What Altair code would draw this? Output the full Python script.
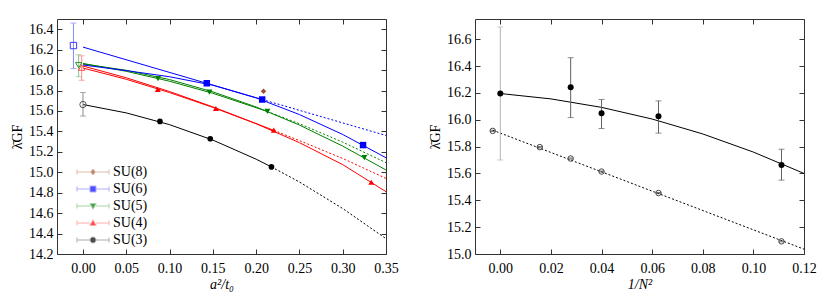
import altair as alt
import pandas as pd

FONT = "'Liberation Serif', 'DejaVu Serif', serif"

# ---------------- left panel: lambda_GF vs a^2/t0 ----------------
groups = ["SU(8)", "SU(6)", "SU(5)", "SU(4)", "SU(3)"]
colors = ["#a0522d", "#0000ff", "#008000", "#ff0000", "#000000"]
bar_colors = ["#d2a088", "#8a8aff", "#86c286", "#ff8a8a", "#8a8a8a"]
shapes = ["diamond", "square", "triangle-down", "triangle-up", "circle"]
marker_sizes = [30, 42, 36, 36, 32]

su8_x = [0.2085]
su8_y = [15.793]
su6_x = [0.143, 0.207, 0.3235]
su6_y = [15.871, 15.712, 15.266]
su5_x = [0.0866, 0.146, 0.213, 0.325]
su5_y = [15.917, 15.784, 15.595, 15.143]
su4_x = [0.0864, 0.1535, 0.2204, 0.333]
su4_y = [15.81, 15.624, 15.413, 14.902]
su3_x = [0.0889, 0.147, 0.2177]
su3_y = [15.498, 15.328, 15.052]

# continuum values (open symbols) with errors
cont_groups = ["SU(6)", "SU(5)", "SU(4)", "SU(3)"]
cont_x = [-0.011, -0.005, -0.0015, 0.0]
cont_y = [16.24, 16.048, 16.025, 15.663]
cont_lo = [16.015, 15.935, 15.90, 15.55]
cont_hi = [16.46, 16.15, 16.14, 15.78]
cont_colors = ["#3a3aff", "#2a9a2a", "#ff4a4a", "#555555"]
cont_bar_colors = ["#8a8aff", "#86c286", "#ff8a8a", "#8a8a8a"]
cont_shapes = ["square", "triangle-down", "triangle-up", "circle"]

# continuum fits (solid inside fit range, dotted extrapolation)
fit_su3_x = [0.0, 0.05, 0.10, 0.15, 0.20, 0.2177]
fit_su3_y = [15.663, 15.581, 15.466, 15.315, 15.128, 15.052]
ext_su3_x = [0.2177, 0.25, 0.30, 0.35]
ext_su3_y = [15.052, 14.905, 14.645, 14.35]

fit_su4_x = [0.0, 0.05, 0.10, 0.15, 0.20, 0.25, 0.30, 0.35]
fit_su4_y = [16.02, 15.91, 15.78, 15.635, 15.475, 15.29, 15.075, 14.81]
fit_su4b_x = [0.0, 0.05, 0.10, 0.15, 0.2204]
fit_su4b_y = [16.04, 15.925, 15.79, 15.64, 15.41]
ext_su4b_x = [0.2204, 0.25, 0.30, 0.35]
ext_su4b_y = [15.41, 15.31, 15.135, 14.94]

fit_su5_x = [0.0, 0.05, 0.10, 0.15, 0.20, 0.25, 0.30, 0.35]
fit_su5_y = [16.06, 15.998, 15.907, 15.787, 15.639, 15.462, 15.256, 15.022]
fit_su5b_x = [0.0, 0.05, 0.10, 0.15, 0.213]
fit_su5b_y = [16.065, 15.988, 15.891, 15.773, 15.595]
ext_su5b_x = [0.213, 0.25, 0.30, 0.35]
ext_su5b_y = [15.595, 15.475, 15.295, 15.094]

fit_su6_x = [0.0, 0.05, 0.10, 0.15, 0.20, 0.25, 0.30, 0.35]
fit_su6_y = [16.05, 15.995, 15.935, 15.852, 15.728, 15.565, 15.37, 15.142]
fit_su6b_x = [0.0, 0.207]
fit_su6b_y = [16.225, 15.712]
ext_su6b_x = [0.207, 0.35]
ext_su6b_y = [15.712, 15.36]

left_xticks = [0.0, 0.05, 0.10, 0.15, 0.20, 0.25, 0.30, 0.35]
left_yticks = [14.2, 14.4, 14.6, 14.8, 15.0, 15.2, 15.4, 15.6, 15.8, 16.0, 16.2, 16.4]
left_xdom = [-0.03, 0.35]
left_ydom = [14.2, 16.5]

# ---------------- right panel: lambda_GF vs 1/N^2 ----------------
n_x = [0.0, 0.0278, 0.04, 0.0625, 0.1111]
n_y = [16.195, 16.242, 16.048, 16.025, 15.663]
n_lo = [15.70, 16.016, 15.935, 15.90, 15.55]
n_hi = [16.69, 16.462, 16.15, 16.14, 15.78]
n_bar_colors = ["#b4b4b4", "#606060", "#606060", "#606060", "#606060"]

o_x = [-0.003, 0.0156, 0.0278, 0.04, 0.0625, 0.1111]
o_y = [15.917, 15.796, 15.711, 15.614, 15.454, 15.094]
o_lo = [15.913, 15.792, 15.707, 15.610, 15.450, 15.090]
o_hi = [15.921, 15.800, 15.715, 15.618, 15.458, 15.098]

fitN_x = [0.0, 0.02, 0.04, 0.06, 0.08, 0.10, 0.12]
fitN_y = [16.195, 16.155, 16.092, 16.005, 15.894, 15.759, 15.60]
fitO_x = [-0.003, 0.03, 0.06, 0.09, 0.12]
fitO_y = [15.922, 15.684, 15.468, 15.252, 15.036]

right_xticks = [0.0, 0.02, 0.04, 0.06, 0.08, 0.10, 0.12]
right_yticks = [15.0, 15.2, 15.4, 15.6, 15.8, 16.0, 16.2, 16.4, 16.6]
right_xdom = [-0.01, 0.12]
right_ydom = [15.0, 16.75]

# ---------------- tables ----------------
color_of = dict(zip(groups, colors))
shape_of = dict(zip(groups, shapes))
size_of = dict(zip(groups, marker_sizes))

pt_groups = (["SU(8)"] * len(su8_x) + ["SU(6)"] * len(su6_x) + ["SU(5)"] * len(su5_x)
             + ["SU(4)"] * len(su4_x) + ["SU(3)"] * len(su3_x))
pts = pd.DataFrame({
    "group": pt_groups,
    "x": su8_x + su6_x + su5_x + su4_x + su3_x,
    "y": su8_y + su6_y + su5_y + su4_y + su3_y,
    "col": [color_of[g] for g in pt_groups],
    "shp": [shape_of[g] for g in pt_groups],
    "sz": [size_of[g] for g in pt_groups],
})

cont = pd.DataFrame({"group": cont_groups, "x": cont_x, "y": cont_y, "lo": cont_lo,
                     "hi": cont_hi, "col": cont_colors, "bc": cont_bar_colors, "shp": cont_shapes})

curve_defs = [
    ("SU(3)", "solid", fit_su3_x, fit_su3_y), ("SU(3)", "dot", ext_su3_x, ext_su3_y),
    ("SU(4)", "solid", fit_su4_x, fit_su4_y), ("SU(4)", "solid", fit_su4b_x, fit_su4b_y),
    ("SU(4)", "dot", ext_su4b_x, ext_su4b_y),
    ("SU(5)", "solid", fit_su5_x, fit_su5_y), ("SU(5)", "solid", fit_su5b_x, fit_su5b_y),
    ("SU(5)", "dot", ext_su5b_x, ext_su5b_y),
    ("SU(6)", "solid", fit_su6_x, fit_su6_y), ("SU(6)", "solid", fit_su6b_x, fit_su6b_y),
    ("SU(6)", "dot", ext_su6b_x, ext_su6b_y),
]
rows = []
for i, (g, st, xs, ys) in enumerate(curve_defs):
    for a, b in zip(xs, ys):
        rows.append({"curve": i, "group": g, "style": st, "x": a, "y": b, "col": color_of[g]})
curves = pd.DataFrame(rows)

legend_df = pd.DataFrame({"group": groups, "x": [0.0] * len(groups), "y": [15.0] * len(groups)})

ncurves = pd.DataFrame(
    [{"curve": 0, "style": "solid", "x": a, "y": b} for a, b in zip(fitN_x, fitN_y)]
    + [{"curve": 1, "style": "dot", "x": a, "y": b} for a, b in zip(fitO_x, fitO_y)]
)
npts = pd.DataFrame({"x": n_x, "y": n_y, "lo": n_lo, "hi": n_hi, "bc": n_bar_colors})
opts = pd.DataFrame({"x": o_x, "y": o_y, "lo": o_lo, "hi": o_hi})

# ---------------- helpers ----------------
def X(field, dom, axis=None):
    return alt.X(f"{field}:Q", scale=alt.Scale(domain=dom, nice=False, zero=False), axis=axis)


def Y(field, dom, axis=None):
    return alt.Y(f"{field}:Q", scale=alt.Scale(domain=dom, nice=False, zero=False), axis=axis)


def main_x_axis(vals, title):
    return alt.Axis(orient="bottom", values=vals, format=".2f", offset=-5, tickSize=5,
                    labelPadding=7, labelFlush=False, labelOverlap=False,
                    title=title, titlePadding=2, titleFontStyle="italic")


def main_y_axis(vals, title):
    return alt.Axis(orient="left", values=vals, format=".1f", offset=-5, tickSize=5,
                    labelPadding=4, labelFlush=False, labelOverlap=False,
                    title=title, titlePadding=4)


def top_axis(vals):
    return alt.Axis(orient="top", values=vals, offset=-5, tickSize=5, labels=False, title=None)


def right_axis(vals):
    return alt.Axis(orient="right", values=vals, offset=-5, tickSize=5, labels=False, title=None)


# legend symbols: horizontal error bar with marker (path units = 5 px)
bar = "M-3.2,0H-0.6M0.6,0H3.2M-3.2,-0.5V0.5M3.2,-0.5V0.5"
legend_paths = [
    bar + "M0,-0.6L0.5,0L0,0.6L-0.5,0Z",
    bar + "M-0.6,-0.6H0.6V0.6H-0.6Z",
    bar + "M0,0.65L0.65,-0.5L-0.65,-0.5Z",
    bar + "M0,-0.65L0.65,0.5L-0.65,0.5Z",
    bar + "M-0.6,0A0.6,0.6,0,1,1,0.6,0A0.6,0.6,0,1,1,-0.6,0Z",
]


def make_legend():
    return alt.Legend(title=None, orient="none", legendX=15, legendY=146, padding=0,
                      symbolSize=100, symbolStrokeWidth=1, symbolOffset=14, labelOffset=13,
                      rowPadding=3, labelFont=FONT, labelFontSize=14, labelColor="#000")


# ---------------- left chart ----------------
LX, LY = left_xdom, left_ydom
l_solid = alt.Chart(curves).transform_filter("datum.style == 'solid'").mark_line(
    strokeWidth=1, clip=True).encode(
    x=X("x", LX, main_x_axis(left_xticks, "a²/t₀")),
    y=Y("y", LY, main_y_axis(left_yticks, "λ̄GF")),
    color=alt.Color("col:N", scale=None), detail="curve:N")
l_dot = alt.Chart(curves).transform_filter("datum.style == 'dot'").mark_line(
    strokeWidth=1, strokeDash=[2, 2], clip=True).encode(
    x=X("x", LX), y=Y("y", LY), color=alt.Color("col:N", scale=None), detail="curve:N")
l_err = alt.Chart(cont).mark_rule(strokeWidth=1).encode(
    x=X("x", LX), y=Y("lo", LY), y2="hi:Q", color=alt.Color("bc:N", scale=None))
l_cap_lo = alt.Chart(cont).mark_tick(orient="horizontal", size=6, thickness=1).encode(
    x=X("x", LX), y=Y("lo", LY), color=alt.Color("bc:N", scale=None))
l_cap_hi = alt.Chart(cont).mark_tick(orient="horizontal", size=6, thickness=1).encode(
    x=X("x", LX), y=Y("hi", LY), color=alt.Color("bc:N", scale=None))
l_open = alt.Chart(cont).mark_point(filled=False, strokeWidth=1, size=40, opacity=1).encode(
    x=X("x", LX), y=Y("y", LY), color=alt.Color("col:N", scale=None),
    shape=alt.Shape("shp:N", scale=None))
l_pts = alt.Chart(pts).mark_point(filled=True, opacity=1).encode(
    x=X("x", LX, top_axis(left_xticks)), y=Y("y", LY, right_axis(left_yticks)),
    color=alt.Color("col:N", scale=None),
    shape=alt.Shape("shp:N", scale=None),
    size=alt.Size("sz:Q", scale=None))
# legend-only layer (no rows survive the filter; legend comes from the scale domains)
l_leg = alt.Chart(legend_df).transform_filter("false").mark_point(
    filled=True, opacity=1, strokeWidth=1).encode(
    x=X("x", LX), y=Y("y", LY),
    color=alt.Color("group:N", scale=alt.Scale(domain=groups, range=colors), legend=make_legend()),
    stroke=alt.Stroke("group:N", scale=alt.Scale(domain=groups, range=bar_colors),
                      legend=make_legend()),
    shape=alt.Shape("group:N", scale=alt.Scale(domain=groups, range=legend_paths),
                    legend=make_legend()))

left = alt.layer(l_solid, l_dot, l_err, l_cap_lo, l_cap_hi, l_open, l_pts, l_leg).properties(
    width=329, height=235).resolve_axis(x="independent", y="independent")

# ---------------- right chart ----------------
RX, RY = right_xdom, right_ydom
r_solid = alt.Chart(ncurves).transform_filter("datum.style == 'solid'").mark_line(
    strokeWidth=1, color="#000", clip=True).encode(
    x=X("x", RX, main_x_axis(right_xticks, "1/N²")),
    y=Y("y", RY, main_y_axis(right_yticks, "λ̄GF")))
r_dot = alt.Chart(ncurves).transform_filter("datum.style == 'dot'").mark_line(
    strokeWidth=1, color="#000", strokeDash=[2, 2], clip=True).encode(
    x=X("x", RX), y=Y("y", RY))
r_err = alt.Chart(npts).mark_rule(strokeWidth=1).encode(
    x=X("x", RX), y=Y("lo", RY), y2="hi:Q", color=alt.Color("bc:N", scale=None))
r_cap_lo = alt.Chart(npts).mark_tick(orient="horizontal", size=6, thickness=1).encode(
    x=X("x", RX), y=Y("lo", RY), color=alt.Color("bc:N", scale=None))
r_cap_hi = alt.Chart(npts).mark_tick(orient="horizontal", size=6, thickness=1).encode(
    x=X("x", RX), y=Y("hi", RY), color=alt.Color("bc:N", scale=None))
r_ocap_lo = alt.Chart(opts).mark_tick(orient="horizontal", size=5, thickness=1, color="#444").encode(
    x=X("x", RX), y=Y("lo", RY))
r_ocap_hi = alt.Chart(opts).mark_tick(orient="horizontal", size=5, thickness=1, color="#444").encode(
    x=X("x", RX), y=Y("hi", RY))
r_open = alt.Chart(opts).mark_point(shape="circle", filled=False, strokeWidth=1, size=30,
                                    color="#444", opacity=1).encode(
    x=X("x", RX), y=Y("y", RY))
r_pts = alt.Chart(npts).mark_point(shape="circle", filled=True, size=36, color="#000",
                                   opacity=1).encode(
    x=X("x", RX, top_axis(right_xticks)), y=Y("y", RY, right_axis(right_yticks)))

right = alt.layer(r_solid, r_dot, r_err, r_cap_lo, r_cap_hi, r_ocap_lo, r_ocap_hi, r_open,
                  r_pts).properties(width=329, height=235).resolve_axis(
    x="independent", y="independent")

chart = alt.hconcat(left, right, spacing=29).properties(
    padding={"left": 2, "top": 10, "right": 0, "bottom": 0}
).configure_view(stroke="#333", strokeWidth=1).configure_axis(
    labelFont=FONT, titleFont=FONT, labelFontSize=14, titleFontSize=14,
    labelColor="#000", titleColor="#000", tickColor="#333", tickWidth=1,
    grid=False, domain=False, titleFontWeight="normal")

chart.save("out.html", embed_options={"renderer": "svg", "actions": False})
